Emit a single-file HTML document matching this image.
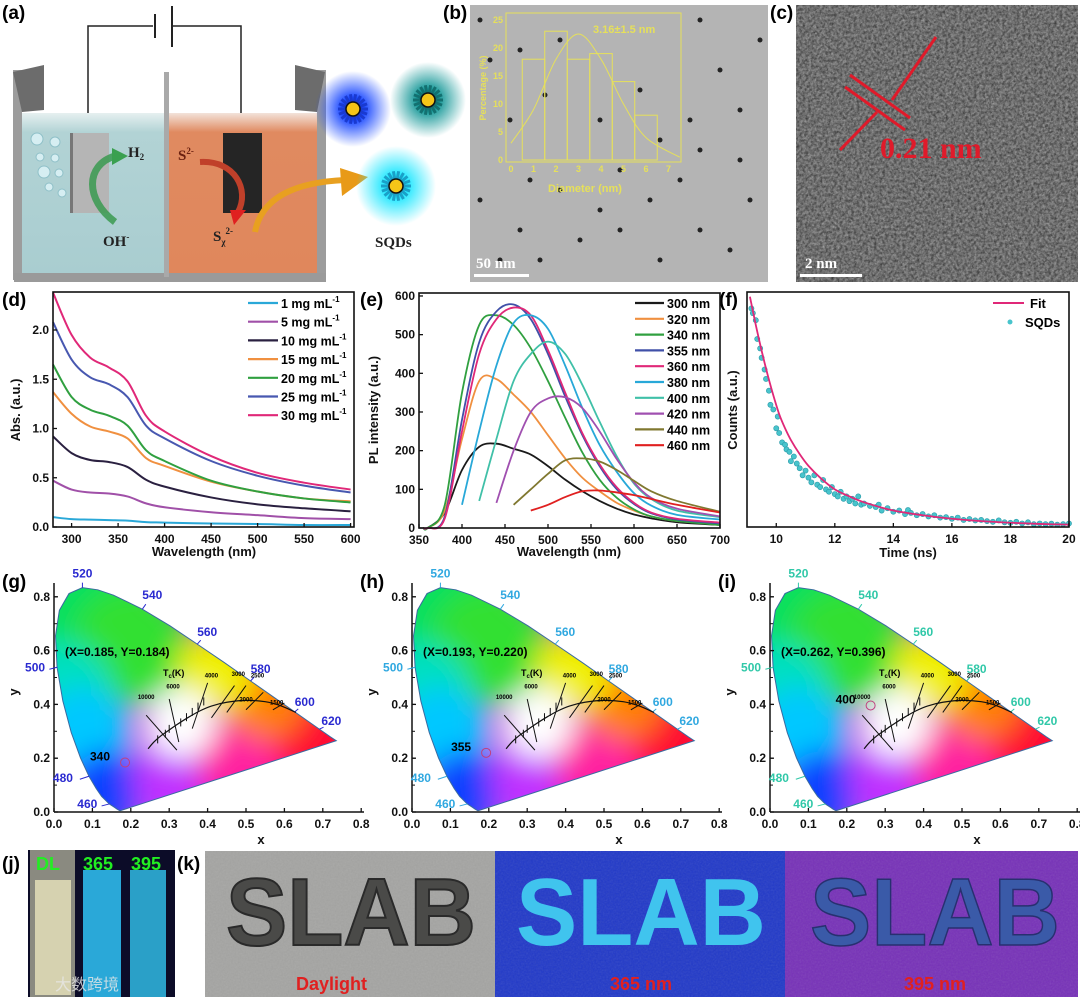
<!DOCTYPE html>
<html><head><meta charset="utf-8"><style>
body{margin:0;background:#fff;}
svg{display:block;font-family:"Liberation Sans",sans-serif;}
.tk{font-size:12px;font-weight:bold;fill:#111;}
.al{font-size:13px;font-weight:bold;fill:#111;}
.pl{font-size:19px;font-weight:bold;fill:#000;}
</style></head><body>
<svg id="fig" width="1080" height="1002" viewBox="0 0 1080 1002" xmlns="http://www.w3.org/2000/svg">
<defs>
<radialGradient id="glowB"><stop offset="0.3" stop-color="#1d4bff"/><stop offset="1" stop-color="#1d4bff" stop-opacity="0"/></radialGradient>
<radialGradient id="glowT"><stop offset="0.3" stop-color="#1a9a9a"/><stop offset="1" stop-color="#1a9a9a" stop-opacity="0"/></radialGradient>
<radialGradient id="glowC"><stop offset="0.3" stop-color="#28e8ff"/><stop offset="1" stop-color="#28e8ff" stop-opacity="0"/></radialGradient>
<linearGradient id="waterL" x1="0" y1="0" x2="0" y2="1"><stop offset="0" stop-color="#e6f0f0"/><stop offset="0.12" stop-color="#b2d3d5"/><stop offset="1" stop-color="#a9cdd0"/></linearGradient>
<linearGradient id="waterR" x1="0" y1="0" x2="0" y2="1"><stop offset="0" stop-color="#f3e3da"/><stop offset="0.12" stop-color="#e08a60"/><stop offset="1" stop-color="#e0875c"/></linearGradient>
<filter id="noise2" x="0" y="0" width="100%" height="100%"><feTurbulence type="fractalNoise" baseFrequency="0.6" numOctaves="2" seed="5" result="t"/><feColorMatrix in="t" type="saturate" values="0"/></filter>
<filter id="noise3" x="0" y="0" width="100%" height="100%"><feTurbulence type="fractalNoise" baseFrequency="0.35" numOctaves="3" seed="9" result="t"/><feColorMatrix in="t" type="matrix" values="0 0 0 0 0  0 0 0 0 0  0 0 0 0 0  1.6 0 0 0 -0.55"/></filter>
<filter id="blur12"><feGaussianBlur stdDeviation="14"/></filter>
</defs>

<!-- Panel a -->
<g>
<text class="pl" x="2" y="19">(a)</text>
<polyline points="88,133 88,26 153,26" fill="none" stroke="#222" stroke-width="1.5"/>
<polyline points="173,26 241,26 241,133" fill="none" stroke="#222" stroke-width="1.5"/>
<line x1="155" y1="14" x2="155" y2="38" stroke="#222" stroke-width="2"/>
<line x1="172" y1="6" x2="172" y2="47" stroke="#222" stroke-width="2"/>
<rect x="21" y="113" width="145" height="160" fill="url(#waterL)"/>
<rect x="169" y="113" width="149" height="160" fill="url(#waterR)"/>
<rect x="13" y="70" width="9" height="210" fill="#9c9c9c"/>
<polygon points="13,72 44,65 44,110 22,112" fill="#6c6c6c"/>
<rect x="317" y="70" width="9" height="210" fill="#9c9c9c"/>
<polygon points="295,65 325,72 317,112 295,110" fill="#6c6c6c"/>
<rect x="14" y="273" width="312" height="9" fill="#9a9a9a"/>
<rect x="164" y="72" width="5" height="205" fill="#a9a9a9"/>
<rect x="70" y="133" width="39" height="80" fill="#b5b5b5"/><rect x="70" y="133" width="3" height="80" fill="#777"/>
<rect x="223" y="133" width="39" height="80" fill="#252525"/>
<g fill="#d6eef2" stroke="#8fc0c8" stroke-width="1"><circle cx="37" cy="139" r="6"/><circle cx="55" cy="142" r="5"/><circle cx="40" cy="157" r="4"/><circle cx="55" cy="158" r="4"/><circle cx="44" cy="172" r="6"/><circle cx="59" cy="173" r="4"/><circle cx="49" cy="187" r="4"/><circle cx="62" cy="193" r="4"/></g>
<path d="M115,222 C85,200 85,165 115,156" fill="none" stroke="#3a9a50" stroke-width="7" opacity="0.85"/>
<polygon points="112,148 128,156 112,165" fill="#3aa050"/>
<text x="128" y="157" font-family="Liberation Serif" font-weight="bold" font-size="15" fill="#222">H<tspan font-size="9" dy="3">2</tspan></text>
<text x="103" y="246" font-family="Liberation Serif" font-weight="bold" font-size="15" fill="#222">OH<tspan font-size="9" dy="-6">-</tspan></text>
<text x="178" y="160" font-family="Liberation Serif" font-weight="bold" font-size="15" fill="#6a2010">S<tspan font-size="9" dy="-6">2-</tspan></text>
<path d="M200,162 C235,160 250,190 238,212" fill="none" stroke="#c0402a" stroke-width="6"/>
<polygon points="230,210 246,210 234,225" fill="#e02020"/>
<text x="213" y="241" font-family="Liberation Serif" font-weight="bold" font-size="15" fill="#222">S<tspan font-size="9" dy="4">χ</tspan><tspan font-size="9" dy="-11">2-</tspan></text>
<path d="M255,232 C262,195 300,182 345,180" fill="none" stroke="#e8a020" stroke-width="6"/>
<polygon points="340,168 368,177 342,196" fill="#e89a18"/>
<circle cx="353" cy="109" r="38" fill="url(#glowB)"/>
<circle cx="428" cy="100" r="38" fill="url(#glowT)"/>
<circle cx="396" cy="186" r="40" fill="url(#glowC)"/>
<g id="qdots"></g>
<text x="375" y="247" font-family="Liberation Serif" font-weight="bold" font-size="15" fill="#222">SQDs</text>
</g>

<!-- Panel b -->
<g>
<text class="pl" x="443" y="19">(b)</text>
<rect x="470" y="5" width="298" height="277" fill="#b4b4b4"/>
<g id="temdots" fill="#222"></g>
<g stroke="#e6e05a" fill="none" stroke-width="1">
<rect x="506" y="13" width="175" height="149"/>
<g id="hist"></g>
</g>
<text x="593" y="33" font-size="11" font-weight="bold" fill="#e6e05a">3.16±1.5 nm</text>
<text id="pctlabel" x="486" y="88" text-anchor="middle" font-size="9" font-weight="bold" fill="#e6e05a" transform="rotate(-90 486 88)">Percentage (%)</text>
<text x="548" y="192" font-size="11" font-weight="bold" fill="#e6e05a">Diameter (nm)</text>
<rect x="474" y="274" width="55" height="3" fill="#fff"/>
<text x="476" y="268" font-family="Liberation Serif" font-weight="bold" font-size="15" fill="#fff">50 nm</text>
</g>

<!-- Panel c -->
<g>
<text class="pl" x="770" y="19">(c)</text>
<rect x="796" y="5" width="282" height="277" fill="#6a6a6a"/>
<rect x="796" y="5" width="282" height="277" filter="url(#noise2)" opacity="0.6"/>
<rect x="796" y="5" width="282" height="277" filter="url(#noise3)" opacity="0.6"/>
<line x1="850" y1="75" x2="910" y2="118" stroke="#e01a2a" stroke-width="3"/>
<line x1="845" y1="87" x2="905" y2="130" stroke="#e01a2a" stroke-width="3"/>
<line x1="936" y1="37" x2="892" y2="100" stroke="#e01a2a" stroke-width="3"/>
<line x1="840" y1="150" x2="877" y2="112" stroke="#e01a2a" stroke-width="3"/>
<text x="880" y="158" font-family="Liberation Serif" font-weight="bold" font-size="30" fill="#e01a2a">0.21 nm</text>
<rect x="800" y="274" width="62" height="3" fill="#fff"/>
<text x="805" y="268" font-family="Liberation Serif" font-weight="bold" font-size="15" fill="#fff">2 nm</text>
</g>

<text class="pl" x="2" y="306">(d)</text>
<text class="pl" x="360" y="306">(e)</text>
<text class="pl" x="719" y="306">(f)</text>
<g id="pd"></g>
<g id="pe"></g>
<g id="pf"></g>

<text class="pl" x="2" y="588">(g)</text>
<text class="pl" x="360" y="588">(h)</text>
<text class="pl" x="718" y="588">(i)</text>
<g id="cie"></g>

<!-- Panel j -->
<g>
<text class="pl" x="2" y="870">(j)</text>
<rect x="28" y="850" width="147" height="147" fill="#0c0c28"/>
<rect x="30" y="850" width="45" height="147" fill="#8a8a80"/>
<rect x="35" y="880" width="36" height="115" fill="#d6d2b0"/>
<rect x="83" y="870" width="38" height="127" fill="#2aa8d8"/>
<rect x="130" y="870" width="36" height="127" fill="#2aa0c8"/>
<text x="36" y="870" font-size="18" font-weight="bold" fill="#22ee22">DL</text>
<text x="83" y="870" font-size="18" font-weight="bold" fill="#22ee22">365</text>
<text x="131" y="870" font-size="18" font-weight="bold" fill="#22ee22">395</text>
<text x="55" y="990" font-family="Liberation Sans, 'Noto Sans CJK SC', sans-serif" font-size="16" fill="#e8e8e8" opacity="0.8">大数跨境</text>
</g>
<!-- Panel k -->
<g>
<text class="pl" x="177" y="870">(k)</text>
<rect x="205" y="851" width="290" height="146" fill="#a4a4a2"/>
<rect x="495" y="851" width="290" height="146" fill="#2038c8"/>
<rect x="785" y="851" width="293" height="146" fill="#7630b8"/>
<rect x="205" y="851" width="873" height="146" filter="url(#noise2)" opacity="0.15"/>
<text x="226" y="945" font-size="96" font-weight="bold" fill="#4a4a48" stroke="#2a2a2a" stroke-width="2" textLength="250" lengthAdjust="spacingAndGlyphs">SLAB</text>
<text x="516" y="945" font-size="96" font-weight="bold" fill="#40c4ee" textLength="250" lengthAdjust="spacingAndGlyphs">SLAB</text>
<text x="810" y="945" font-size="96" font-weight="bold" fill="#3a5aa8" stroke="#283070" stroke-width="1.5" textLength="250" lengthAdjust="spacingAndGlyphs">SLAB</text>
<text x="296" y="990" font-size="18" font-weight="bold" fill="#e02020">Daylight</text>
<text x="610" y="990" font-size="18" font-weight="bold" fill="#e02020">365 nm</text>
<text x="904" y="990" font-size="18" font-weight="bold" fill="#e02020">395 nm</text>
</g>
</svg>
<script>
// ===== Data =====
const absWl = [280,300,320,340,360,380,400,450,500,550,600];
const absLabels = ['1 mg mL','5 mg mL','10 mg mL','15 mg mL','20 mg mL','25 mg mL','30 mg mL'];
const absColors = ['#2aa8d8','#a050a8','#2a2040','#f09040','#30a040','#4858b0','#e02878'];
const abs1  = [0.10,0.08,0.075,0.07,0.065,0.05,0.045,0.035,0.03,0.02,0.02];
const abs5  = [0.47,0.38,0.35,0.34,0.31,0.24,0.20,0.15,0.12,0.09,0.08];
const abs10 = [0.92,0.75,0.68,0.66,0.61,0.48,0.41,0.30,0.23,0.19,0.16];
const abs15 = [1.37,1.15,1.02,0.97,0.90,0.70,0.62,0.46,0.36,0.29,0.26];
const abs20 = [1.65,1.32,1.19,1.13,1.03,0.78,0.67,0.47,0.36,0.29,0.25];
const abs25 = [2.08,1.70,1.52,1.45,1.32,1.03,0.90,0.67,0.52,0.42,0.35];
const abs30 = [2.38,1.95,1.72,1.62,1.48,1.13,0.97,0.72,0.55,0.45,0.38];
const absSeries = [abs1,abs5,abs10,abs15,abs20,abs25,abs30];
const absXTicks = [300,350,400,450,500,550,600];
const absYTicks = [0,0.5,1.0,1.5,2.0];

const plWl = [360,380,400,420,440,460,480,500,520,540,560,580,600,620,650,700];
const plLabels = ['300 nm','320 nm','340 nm','355 nm','360 nm','380 nm','400 nm','420 nm','440 nm','460 nm'];
const plColors = ['#1a1a1a','#f09040','#30a040','#4050a8','#e02878','#28a8d8','#40c0a8','#a050b0','#807830','#e02020'];
const pl300 = [0,40,150,210,218,205,190,160,125,95,70,50,35,25,15,8];
const pl320 = [0,45,230,380,385,345,300,240,180,130,95,65,45,30,18,10];
const pl340 = [0,60,350,525,550,525,465,380,285,195,125,78,48,30,18,8];
const pl355 = [0,30,280,480,560,578,540,450,340,240,160,100,62,38,22,12];
const pl360 = [0,25,250,450,540,570,550,460,350,245,165,105,65,40,24,14];
const pl380 = [null,null,60,250,420,530,550,515,420,310,215,145,90,58,34,22];
const pl400 = [null,null,null,70,230,380,450,482,450,370,275,185,115,75,45,28];
const pl420 = [null,null,null,null,65,200,300,335,338,310,250,178,118,78,50,30];
const pl440 = [null,null,null,null,null,60,100,140,175,180,172,150,122,95,70,42];
const pl460 = [null,null,null,null,null,null,45,60,80,95,97,92,85,75,60,40];
const plSeries = [pl300,pl320,pl340,pl355,pl360,pl380,pl400,pl420,pl440,pl460];
const plXTicks = [350,400,450,500,550,600,650,700];
const plYTicks = [0,100,200,300,400,500,600];

const decayT = [9.15,9.2,9.3,9.35,9.45,9.5,9.6,9.65,9.75,9.8,9.9,10.0,10.05,10.1,10.2,10.3,10.35,10.45,10.5,10.6,10.7,10.8,10.9,11.0,11.1,11.2,11.3,11.4,11.5,11.6,11.7,11.8,11.9,12.0,12.1,12.2,12.3,12.4,12.5,12.6,12.7,12.8,12.9,13.0,13.2,13.4,13.5,13.6,13.8,14.0,14.2,14.4,14.5,14.6,14.8,15.0,15.2,15.4,15.6,15.8,16.0,16.2,16.4,16.6,16.8,17.0,17.2,17.4,17.6,17.8,18.0,18.2,18.4,18.6,18.8,19.0,19.2,19.4,19.6,19.8,20.0];
const decayC = [0.93,0.91,0.88,0.80,0.76,0.72,0.67,0.63,0.58,0.52,0.50,0.42,0.47,0.40,0.36,0.35,0.33,0.32,0.28,0.30,0.27,0.25,0.22,0.24,0.21,0.19,0.22,0.18,0.17,0.20,0.16,0.15,0.17,0.14,0.13,0.15,0.12,0.13,0.11,0.12,0.10,0.13,0.095,0.10,0.09,0.085,0.095,0.07,0.08,0.065,0.07,0.055,0.072,0.06,0.05,0.055,0.045,0.05,0.04,0.042,0.035,0.04,0.03,0.034,0.028,0.03,0.025,0.022,0.028,0.02,0.018,0.022,0.015,0.02,0.012,0.015,0.012,0.014,0.01,0.012,0.015];
const fitT = [9.1,9.3,9.5,9.7,9.9,10.1,10.3,10.5,10.8,11.1,11.5,12,12.5,13,14,15,16,17,18,19,20];
const fitC = [0.98,0.86,0.75,0.65,0.56,0.48,0.42,0.37,0.31,0.26,0.21,0.16,0.13,0.105,0.07,0.05,0.035,0.025,0.018,0.013,0.01];
const decayXTicks = [10,12,14,16,18,20];

const histBins = [1,2,3,4,5,6];
const histVals = [18,23,18,19,14,8];

const cieLabels = ['340','355','400'];
const cieX = [0.185,0.193,0.262];
const cieY = [0.184,0.220,0.396];
const cieLabelColors = ['#2a2ad0','#30a8e0','#30c8a8'];
const locusX = [0.173,0.171,0.164,0.157,0.144,0.124,0.110,0.091,0.069,0.045,0.023,0.008,0.004,0.014,0.039,0.074,0.114,0.155,0.230,0.302,0.373,0.444,0.512,0.575,0.627,0.691,0.719,0.735];
const locusY = [0.005,0.005,0.011,0.018,0.030,0.058,0.087,0.133,0.201,0.295,0.413,0.538,0.655,0.750,0.812,0.834,0.826,0.806,0.754,0.692,0.624,0.555,0.487,0.424,0.372,0.308,0.280,0.265];
const wlMarks = ['460','480','500','520','540','560','580','600','620'];
const wlMarkX = [0.144,0.091,0.008,0.074,0.230,0.373,0.512,0.627,0.691];
const wlMarkY = [0.030,0.133,0.538,0.834,0.754,0.624,0.487,0.372,0.308];
const planckX = [0.245,0.26,0.28,0.30,0.32,0.35,0.38,0.41,0.45,0.50,0.55,0.59,0.63];
const planckY = [0.235,0.26,0.285,0.305,0.325,0.352,0.376,0.394,0.408,0.415,0.410,0.395,0.37];

// ===== helpers =====
const NS='http://www.w3.org/2000/svg';
function mk(tag,attrs,parent){const e=document.createElementNS(NS,tag);for(const k in attrs)e.setAttribute(k,attrs[k]);parent.appendChild(e);return e;}
function smooth(pts){if(pts.length<2)return '';let d='M'+pts[0][0]+','+pts[0][1];for(let i=0;i<pts.length-1;i++){const p0=pts[i-1]||pts[i],p1=pts[i],p2=pts[i+1],p3=pts[i+2]||p2;const c1=[p1[0]+(p2[0]-p0[0])/6,p1[1]+(p2[1]-p0[1])/6],c2=[p2[0]-(p3[0]-p1[0])/6,p2[1]-(p3[1]-p1[1])/6];d+=' C'+c1+' '+c2+' '+p2;}return d;}
function frame(g,x0,y0,x1,y1){const r=mk('rect',{x:x0,y:y0,width:x1-x0,height:y1-y0,fill:'none',stroke:'#111','stroke-width':1.6},g);}
function xticks(g,ticks,X,y,fmt){ticks.forEach(t=>{mk('line',{x1:X(t),x2:X(t),y1:y,y2:y-4,stroke:'#111','stroke-width':1.3},g);const tx=mk('text',{x:X(t),y:y+16,'text-anchor':'middle',class:'tk'},g);tx.textContent=fmt?fmt(t):t;});}
function yticks(g,ticks,Y,x,fmt){ticks.forEach(t=>{mk('line',{x1:x,x2:x+4,y1:Y(t),y2:Y(t),stroke:'#111','stroke-width':1.3},g);const tx=mk('text',{x:x-4,y:Y(t)+4,'text-anchor':'end',class:'tk'},g);tx.textContent=fmt?fmt(t):t;});}
function alabel(g,txt,x,y,rot){const t=mk('text',{x:x,y:y,'text-anchor':'middle',class:'al'},g);if(rot)t.setAttribute('transform','rotate(-90 '+x+' '+y+')');t.textContent=txt;return t;}

// ===== Panel a quantum dots =====
(function(){const g=document.getElementById('qdots');[[353,109,'#1a3ad0'],[428,100,'#137070'],[396,186,'#1aa0c8']].forEach(c=>{for(let a=0;a<360;a+=20){const r=a*Math.PI/180;mk('line',{x1:c[0],y1:c[1],x2:c[0]+15*Math.cos(r),y2:c[1]+15*Math.sin(r),stroke:c[2],'stroke-width':3},g);}const d=mk('circle',{cx:c[0],cy:c[1],r:7,fill:'#f5c518',stroke:'#111','stroke-width':1.5},g);});})();

// ===== Panel b TEM dots & histogram =====
(function(){const g=document.getElementById('temdots');const pts=[[480,20],[490,60],[520,50],[560,40],[600,120],[640,90],[700,20],[720,70],[740,110],[760,40],[530,180],[560,190],[600,210],[620,230],[650,200],[680,180],[700,230],[730,250],[750,200],[520,230],[500,260],[540,260],[580,240],[660,260],[700,150],[740,160],[480,200],[620,170],[690,120],[510,120],[545,95],[660,140]];pts.forEach(p=>{const c=mk('circle',{cx:p[0],cy:p[1],r:2.5},g);});
const h=document.getElementById('hist');const HX=d=>511+d*22.5, HY=v=>160-v*5.6;
histBins.forEach((b,i)=>{const r=mk('rect',{x:HX(b-0.5),y:HY(histVals[i]),width:22.5,height:HY(0)-HY(histVals[i])},h);});
const fx=[0,1,2,3,4,5,6,7.5],fy=[3,9,18,22.5,18,10,4,0.5];mk('path',{d:smooth(fx.map((x,i)=>[HX(x),HY(fy[i])]))},h);
[0,1,2,3,4,5,6,7].forEach(t=>{const tx=mk('text',{x:HX(t),y:172,'text-anchor':'middle','font-size':9,'font-weight':'bold',fill:'#e6e05a',stroke:'none'},h);tx.textContent=t;});
[0,5,10,15,20,25].forEach(t=>{const tx=mk('text',{x:503,y:HY(t)+3,'text-anchor':'end','font-size':9,'font-weight':'bold',fill:'#e6e05a',stroke:'none'},h);tx.textContent=t;});
})();

// ===== Panel d =====
(function(){const g=document.getElementById('pd');const X=w=>53+(w-280)*0.93, Y=v=>527-v*98.5;
absSeries.forEach((s,i)=>{const p=mk('path',{d:smooth(absWl.map((w,j)=>[X(w),Y(s[j])])),fill:'none',stroke:absColors[i],'stroke-width':2},g);});
frame(g,53,292,354,527);xticks(g,absXTicks,X,527);yticks(g,absYTicks,Y,53,t=>t.toFixed(1));
alabel(g,'Wavelength (nm)',204,556);alabel(g,'Abs. (a.u.)',20,410,true);
absLabels.forEach((l,i)=>{const y=303+i*18.7;mk('line',{x1:248,x2:278,y1:y,y2:y,stroke:absColors[i],'stroke-width':2.2},g);const t=mk('text',{x:281,y:y+5,'font-size':12.5,'font-weight':'bold'},g);t.innerHTML=l+'<tspan font-size="8" dy="-6">-1</tspan>';});
})();

// ===== Panel e =====
(function(){const g=document.getElementById('pe');const X=w=>419+(w-350)*0.86, Y=v=>528-v*0.3867;
plSeries.forEach((s,i)=>{const pts=[];plWl.forEach((w,j)=>{if(s[j]!==null)pts.push([X(w),Y(s[j])]);});if(i<5)pts.unshift([X(355),Y(0)]);const p=mk('path',{d:smooth(pts),fill:'none',stroke:plColors[i],'stroke-width':1.8},g);});
frame(g,419,293,720,528);xticks(g,plXTicks,X,528);yticks(g,plYTicks,Y,419);
alabel(g,'Wavelength (nm)',569,556);alabel(g,'PL intensity (a.u.)',378,410,true);
plLabels.forEach((l,i)=>{const y=303+i*15.8;mk('line',{x1:635,x2:664,y1:y,y2:y,stroke:plColors[i],'stroke-width':2.2},g);const t=mk('text',{x:667,y:y+5,'font-size':12.5,'font-weight':'bold'},g);t.textContent=l;});
})();

// ===== Panel f =====
(function(){const g=document.getElementById('pf');const X=t=>747+(t-9)*29.27, Y=v=>527-v*235;
decayT.forEach((t,i)=>{const c=mk('circle',{cx:X(t),cy:Y(decayC[i]),r:2.6,fill:'#48c4cc',stroke:'#2a9aa8','stroke-width':0.6},g);});
const f=mk('path',{d:smooth(fitT.map((t,i)=>[X(t),Y(fitC[i])])),fill:'none',stroke:'#e02878','stroke-width':1.8},g);
frame(g,747,292,1069,527);xticks(g,decayXTicks,X,527);
alabel(g,'Time (ns)',908,557);alabel(g,'Counts (a.u.)',737,410,true);
mk('line',{x1:993,x2:1024,y1:303,y2:303,stroke:'#e02878','stroke-width':2},g);mk('circle',{cx:1010,cy:322,r:2.5,fill:'#48c4cc'},g);
const t1=mk('text',{x:1030,y:308,'font-size':13,'font-weight':'bold'},g);t1.textContent='Fit';
const t2=mk('text',{x:1025,y:327,'font-size':13,'font-weight':'bold'},g);t2.textContent='SQDs';
})();

// ===== CIE panels =====
(function(){const root=document.getElementById('cie');const origins=[54,412,770];
const blobs=[[0.08,0.78,'#00e060',70],[0.2,0.62,'#30e030',60],[0.02,0.45,'#00e0c0',50],[0.08,0.30,'#00c8ff',45],[0.14,0.08,'#1040ff',40],[0.35,0.12,'#c030ff',55],[0.52,0.16,'#ff20a0',55],[0.68,0.28,'#ff1030',45],[0.55,0.42,'#ff8000',40],[0.42,0.52,'#f0f000',40],[0.33,0.33,'#ffffff',35]];
origins.forEach((ox,k)=>{const g=mk('g',{},root);
const X=x=>ox+x*384, Y=y=>812-y*269;
const cid='clip'+k;const cp=mk('clipPath',{id:cid},g);const poly=locusX.map((x,i)=>X(x)+','+Y(locusY[i])).join(' ');mk('polygon',{points:poly},cp);
const cg=mk('g',{'clip-path':'url(#'+cid+')'},g);mk('rect',{x:ox,y:580,width:300,height:240,fill:'#c060e0'},cg);
const bg=mk('g',{filter:'url(#blur12)'},cg);blobs.forEach(b=>mk('circle',{cx:X(b[0]),cy:Y(b[1]),r:b[3],fill:b[2]},bg));
mk('polygon',{points:poly,fill:'none',stroke:'#3a6aa0','stroke-width':1},g);
mk('line',{x1:ox,x2:ox,y1:583,y2:812,stroke:'#111','stroke-width':1.5},g);mk('line',{x1:ox,x2:ox+310,y1:812,y2:812,stroke:'#111','stroke-width':1.5},g);
xticks(g,[0,0.1,0.2,0.3,0.4,0.5,0.6,0.7,0.8],X,812,t=>t.toFixed(1));
[0,0.1,0.2,0.3,0.4,0.5,0.6,0.7,0.8].forEach(t=>mk('line',{x1:ox,x2:ox+3,y1:Y(t),y2:Y(t),stroke:'#111'},g));
yticks(g,[0,0.2,0.4,0.6,0.8],Y,ox,t=>t.toFixed(1));
alabel(g,'x',ox+207,844);alabel(g,'y',ox-36,692,true);
wlMarks.forEach((w,i)=>{const px=X(wlMarkX[i]),py=Y(wlMarkY[i]);const off={'460':[-22,4],'480':[-26,6],'500':[-22,4],'520':[0,-10],'540':[10,-10],'560':[10,-8],'580':[10,-8],'600':[10,-6],'620':[12,-4]}[w];mk('line',{x1:px,y1:py,x2:px+off[0]*0.35,y2:py+off[1]*0.5,stroke:cieLabelColors[k]},g);const t=mk('text',{x:px+off[0],y:py+off[1],'font-size':12,'font-weight':'bold',fill:cieLabelColors[k],'text-anchor':'middle'},g);t.textContent=w;});
mk('path',{d:smooth(planckX.map((x,i)=>[X(x),Y(planckY[i])])),fill:'none',stroke:'#111','stroke-width':1.2},g);
[[0.24,0.36,0.32,0.23],[0.30,0.42,0.325,0.26],[0.40,0.48,0.36,0.31],[0.47,0.47,0.41,0.35],[0.50,0.47,0.45,0.37],[0.545,0.445,0.50,0.38],[0.60,0.405,0.57,0.38]].forEach(l=>mk('line',{x1:X(l[0]),y1:Y(l[1]),x2:X(l[2]),y2:Y(l[3]),stroke:'#111','stroke-width':1},g));
[0.27,0.29,0.30,0.33,0.345,0.36,0.375,0.39].forEach((x,i)=>{const y=0.27+i*0.015+(x-0.27)*0.3;mk('line',{x1:X(x),y1:Y(y)-4,x2:X(x),y2:Y(y)+4,stroke:'#111'},g);});
[['10000',0.24,0.42],['6000',0.31,0.46],['4000',0.41,0.50],['3000',0.48,0.505],['2500',0.53,0.50],['2000',0.50,0.41],['1500',0.58,0.40]].forEach(s=>{const t=mk('text',{x:X(s[1]),y:Y(s[2]),'font-size':6,'font-weight':'bold','text-anchor':'middle'},g);t.textContent=s[0];});
const tc=mk('text',{x:ox+109,y:676,'font-size':9,'font-weight':'bold'},g);tc.innerHTML='T<tspan font-size="6" dy="2">c</tspan><tspan dy="-2">(K)</tspan>';
const co=mk('text',{x:ox+11,y:656,'font-size':12,'font-weight':'bold'},g);co.textContent='(X='+cieX[k].toFixed(3)+', Y='+cieY[k].toFixed(3)+')';
const m=mk('circle',{cx:X(cieX[k]),cy:Y(cieY[k]),r:4.5,fill:'none',stroke:'#c04080','stroke-width':1},g);
const pl=mk('text',{x:X(cieX[k])-15,y:Y(cieY[k])-2,'font-size':12,'font-weight':'bold','text-anchor':'end'},g);pl.textContent=cieLabels[k];
});})();
</script>
</body></html>
